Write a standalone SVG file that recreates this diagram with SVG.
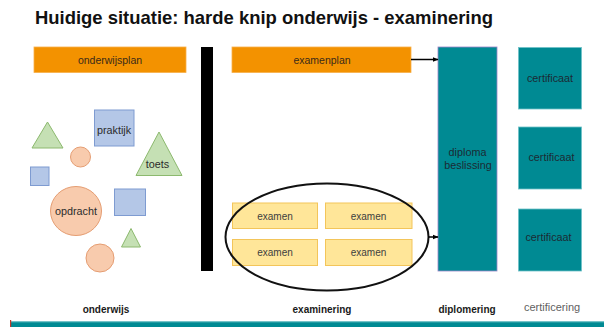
<svg xmlns="http://www.w3.org/2000/svg" width="606" height="327" viewBox="0 0 606 327">
<defs>
<style>
text{font-family:"Liberation Sans",Arial,sans-serif;text-anchor:middle;}
.orange{fill:#F39200;stroke:#F7B04A;stroke-width:0.8;}
.ol{font-size:10.5px;fill:#3a2a1a;}
.teal{fill:#008A93;stroke:#6FC1C7;stroke-width:0.8;}
.tl{font-size:10.8px;fill:#1c2a33;}
.blue{fill:#B4C7E7;stroke:#7E9BD1;stroke-width:1;}
.green{fill:#C5E0B4;stroke:#8CB96E;stroke-width:1;}
.peach{fill:#F8CBAD;stroke:#E59D72;stroke-width:1;}
.sl{font-size:10.8px;fill:#2b2b2b;}
.exam{fill:#FFE699;stroke:#F3C55A;stroke-width:1;}
.el{font-size:10px;fill:#404040;}
.bl{font-size:10px;font-weight:bold;fill:#1a1a1a;}
.conn{stroke:#000;stroke-width:1.5;fill:none;}
</style>
<marker id="arr" markerWidth="6" markerHeight="6" refX="5.5" refY="3" orient="auto" markerUnits="userSpaceOnUse">
<path d="M0,0.5 L6,3 L0,5.5 Z" fill="#000"/>
</marker>
</defs>
<rect width="606" height="327" fill="#fff"/>
<text x="35" y="24" style="text-anchor:start;font-size:18.5px;font-weight:bold;fill:#111;" textLength="458" lengthAdjust="spacingAndGlyphs">Huidige situatie: harde knip onderwijs - examinering</text>

<g id="onderwijsplan"><rect class="orange" x="34" y="47" width="152" height="25.5"/><text class="ol" x="110" y="63.5">onderwijsplan</text></g>
<g id="knip"><rect x="201" y="47" width="12" height="224" fill="#000"/></g>
<g id="examenplan"><rect class="orange" x="232" y="47" width="179" height="25.5"/><text class="ol" x="322" y="63.5">examenplan</text></g>

<g id="shapes">
<polygon class="green" points="47.5,122 32,148 63,148"/>
<g id="praktijk"><rect class="blue" x="94.5" y="110" width="39.5" height="36"/><text class="sl" x="114" y="133.5">praktijk</text></g>
<circle class="peach" cx="80.5" cy="157" r="10"/>
<g id="toets"><polygon class="green" points="159,132 136,175.5 182,175.5"/><text class="sl" x="157.5" y="167.5">toets</text></g>
<rect class="blue" x="30.5" y="167" width="18.5" height="18.5"/>
<g id="opdracht"><ellipse class="peach" cx="76" cy="211" rx="25.5" ry="24.5"/><text class="sl" x="76" y="214.5">opdracht</text></g>
<rect class="blue" x="114.5" y="189" width="31" height="26.5"/>
<polygon class="green" points="131,228.5 121.5,247 140.5,247"/>
<circle class="peach" cx="100" cy="258" r="14"/>
</g>

<g id="examens">
<g id="examen1"><rect class="exam" x="232.5" y="203" width="85" height="25.5"/><text class="el" x="275" y="219.5">examen</text></g>
<g id="examen2"><rect class="exam" x="325.5" y="203" width="86.5" height="25.5"/><text class="el" x="368.5" y="219.5">examen</text></g>
<g id="examen3"><rect class="exam" x="232.5" y="239.5" width="85" height="26"/><text class="el" x="275" y="256">examen</text></g>
<g id="examen4"><rect class="exam" x="325.5" y="239.5" width="86.5" height="26"/><text class="el" x="368.5" y="256">examen</text></g>
<ellipse id="examen-groep" cx="327" cy="237" rx="101.5" ry="53.5" fill="none" stroke="#111" stroke-width="2"/>
</g>

<g id="diploma"><rect x="438" y="47" width="59" height="224" fill="#008A93" stroke="#9B84C9" stroke-width="0.8"/><text class="tl" x="467.5" y="155.5">diploma</text><text class="tl" x="468" y="169">beslissing</text></g>
<g id="certificaat1"><rect class="teal" x="518.5" y="47.5" width="63" height="61.5"/><text class="tl" x="550" y="81.5">certificaat</text></g>
<g id="certificaat2"><rect class="teal" x="518.5" y="127" width="63" height="62"/><text class="tl" x="551.5" y="161">certificaat</text></g>
<g id="certificaat3"><rect class="teal" x="518.5" y="209" width="63" height="62"/><text class="tl" x="548.5" y="241">certificaat</text></g>

<g id="connectors">
<line class="conn" x1="411" y1="59.5" x2="438" y2="59.5" marker-end="url(#arr)"/>
<line class="conn" x1="428" y1="237" x2="438" y2="237" marker-end="url(#arr)"/>
</g>

<g id="labels">
<text class="bl" x="106" y="313">onderwijs</text>
<text class="bl" x="322" y="313">examinering</text>
<text class="bl" x="467" y="313">diplomering</text>
<text x="552" y="311" style="font-size:11px;fill:#5f5f5f;">certificering</text>
</g>
<rect x="11" y="321.5" width="593" height="5.5" fill="#008A93"/>
<rect x="11" y="321.5" width="593" height="0.8" fill="#6FC1C7"/>
<rect x="10" y="320" width="1.2" height="7" fill="#C0392B"/>
</svg>
